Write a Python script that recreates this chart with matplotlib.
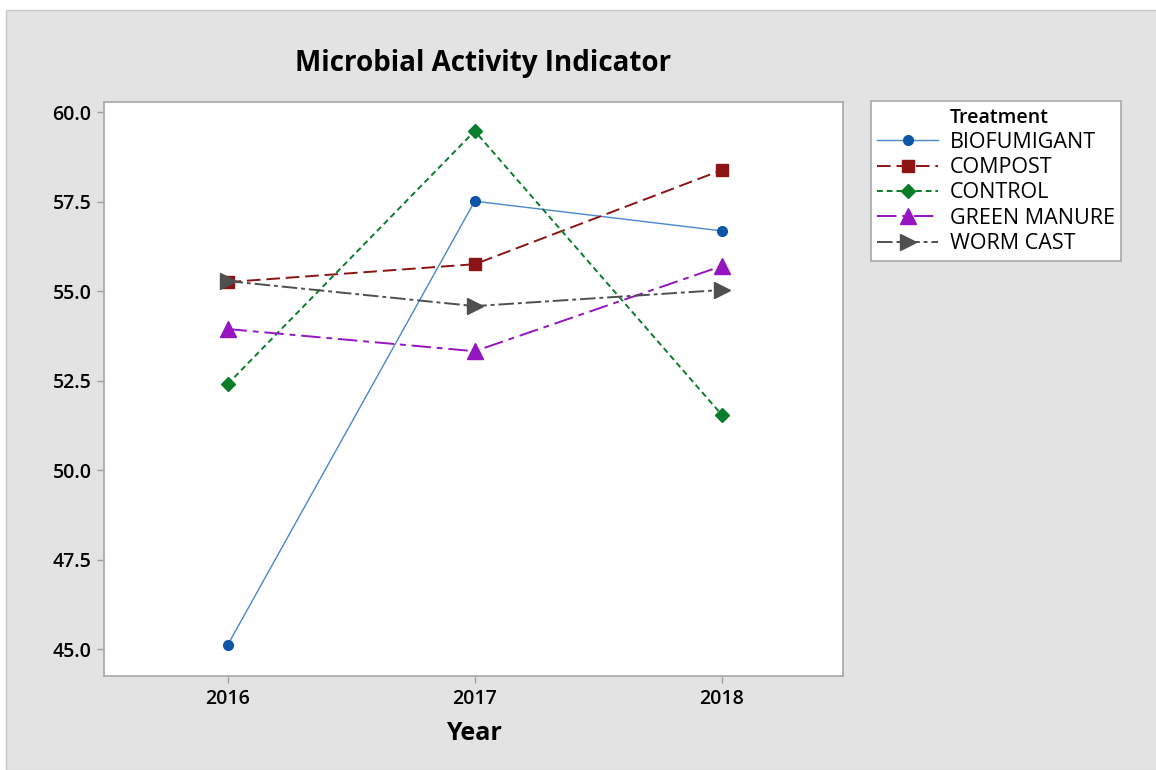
import numpy as np
import matplotlib.pyplot as plt
from matplotlib.lines import Line2D

plt.rcParams['font.family'] = ['Open Sans', 'DejaVu Sans']

years = [2016, 2017, 2018]
treatments = ['BIOFUMIGANT', 'COMPOST', 'CONTROL', 'GREEN MANURE', 'WORM CAST']
biofumigant = [45.11, 57.51, 56.68]
compost = [55.25, 55.75, 58.38]
control = [52.40, 59.47, 51.54]
green_manure = [53.94, 53.32, 55.70]
worm_cast = [55.28, 54.58, 55.03]
yticks = [45.0, 47.5, 50.0, 52.5, 55.0, 57.5, 60.0]

series = [biofumigant, compost, control, green_manure, worm_cast]
linecolors = ['#4a88cc', '#8b1414', '#0a7d2a', '#9515c0', '#4f4f4f']
markcolors = ['#0b56a6', '#8b1414', '#0a7d2a', '#9515c0', '#4f4f4f']
markers = ['o', 's', 'D', '^', '>']
msizes = [7, 8, 7, 11, 12]
dashes = [(None, None), (7, 3), (3, 2), (10, 3, 3, 3), (8, 2, 2, 2)]
lws = [1.0, 1.4, 1.4, 1.4, 1.4]

fig = plt.figure(figsize=(11.56, 7.70), dpi=100)
fig.patch.set_facecolor('white')
bg = plt.Rectangle((6 / 1156, 0), 1, 1 - 10 / 770, transform=fig.transFigure,
                   facecolor='#e3e3e3', edgecolor='#c8c8c8', lw=1, zorder=-10)
fig.patches.append(bg)

ax = fig.add_axes([104 / 1156, 1 - 676 / 770, (843 - 104) / 1156, (676 - 102) / 770])
ax.set_facecolor('white')

handles = []
for name, vals, lc, mc, m, ms, d, lw in zip(treatments, series, linecolors, markcolors,
                                            markers, msizes, dashes, lws):
    line, = ax.plot(years, vals, color=lc, marker=m, markersize=ms, lw=lw,
                    markerfacecolor=mc, markeredgecolor=mc, label=name)
    if d[0] is not None:
        line.set_dashes(d)
    handles.append(line)

ax.set_xlim(2015.5, 2018.49)
ax.set_ylim(44.25, 60.28)
ax.set_xticks(years)
ax.set_xticklabels([str(y) for y in years])
ax.set_yticks(yticks)
ax.set_yticklabels(['%.1f' % v for v in yticks])
ax.tick_params(axis='both', labelsize=14, color='#a0a0a0', length=5, width=1, pad=4)
for lab in ax.get_xticklabels() + ax.get_yticklabels():
    lab.set_fontweight('semibold')
for sp in ax.spines.values():
    sp.set_color('#a8a8a8')
    sp.set_linewidth(1.2)

ax.set_xlabel('Year', fontsize=18, fontweight='bold', labelpad=9)
fig.text(483 / 1156, 1 - 63 / 770, 'Microbial Activity Indicator', fontsize=20,
         fontweight='bold', ha='center', va='center')

# legend title as a blank first row so it lines up with the labels
title_handle = Line2D([], [], alpha=0)
leg = fig.legend(handles=[title_handle] + handles, labels=['Treatment'] + treatments,
                 loc='upper left', bbox_to_anchor=(871 / 1156, 1 - 101 / 770),
                 fontsize=15.5, frameon=True, fancybox=False, facecolor='white',
                 framealpha=1, handlelength=2.8, handletextpad=0.55, labelspacing=0.2,
                 borderpad=0.3, borderaxespad=0)
leg.get_frame().set_edgecolor('#a8a8a8')
leg.get_frame().set_linewidth(1.2)
leg.get_texts()[0].set_fontweight('semibold')
leg.get_texts()[0].set_fontsize(14)

fig.savefig('out.png', dpi=100, facecolor=fig.get_facecolor())
